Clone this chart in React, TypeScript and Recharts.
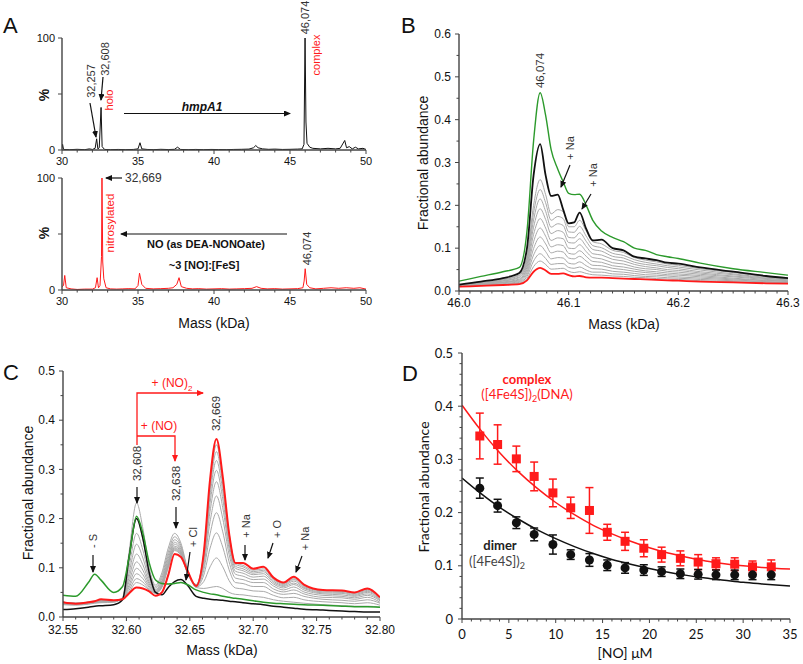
import React from "react";
import { LineChart, Line, XAxis, YAxis, ComposedChart, Scatter, ErrorBar } from "recharts";

// ---------- panel A: deconvoluted spectra ----------
const aTopMass = [30.0, 30.04, 30.1, 30.5, 31, 31.5, 31.8, 32.0, 32.18, 32.28, 32.36, 32.45, 32.57, 32.64, 32.8, 33.2, 33.7, 34.2, 34.7, 35.0, 35.13, 35.25, 35.6, 36, 36.5, 37.0, 37.4, 37.6, 37.8, 38.3, 38.8, 39.3, 39.8, 40.3, 40.8, 41.3, 41.8, 42.3, 42.6, 42.75, 42.9, 43.2, 43.6, 44, 44.5, 45, 45.5, 45.8, 45.92, 45.99, 46.05, 46.12, 46.3, 46.5, 47, 47.5, 48, 48.3, 48.6, 48.72, 48.9, 49.1, 49.3, 49.5, 49.8, 50];
const aTopPct = [1.5, 5, 0.5, 0.3, 0.6, 0.3, 1, 0.5, 1.5, 10, 1, 2, 38, 3, 0.5, 0.3, 0.5, 0.3, 0.5, 1, 6.5, 1, 0.5, 0.3, 0.6, 0.4, 0.6, 2.5, 0.5, 0.3, 0.5, 0.3, 0.5, 0.4, 0.3, 0.5, 0.6, 0.8, 2, 4, 2, 1, 0.6, 0.8, 0.5, 0.6, 0.8, 1, 5, 100, 25, 6, 2.5, 1.5, 1, 1.5, 1, 1.5, 8.5, 2, 3, 1, 2.5, 1, 1.5, 0.5];

const aBotMass = [30, 30.1, 30.18, 30.28, 30.6, 31, 31.5, 32, 32.2, 32.31, 32.4, 32.5, 32.6, 32.63, 32.68, 32.75, 32.9, 33.2, 33.6, 34, 34.4, 34.8, 35.0, 35.1, 35.25, 35.5, 36, 36.5, 37, 37.3, 37.55, 37.7, 37.85, 38.2, 38.6, 39, 39.5, 40, 40.5, 41, 41.5, 42, 42.5, 42.8, 43.1, 43.5, 44, 44.5, 45, 45.5, 45.85, 45.93, 46.0, 46.1, 46.3, 46.7, 47.2, 47.7, 48.2, 48.7, 49.2, 49.6, 50];
const aBotPct = [3, 4, 13, 2, 1, 0.5, 0.8, 0.8, 2, 11, 2, 4, 30, 100, 25, 10, 2, 1, 0.8, 1, 1.2, 1, 4, 15, 5, 1.5, 1, 1.2, 1.5, 2, 5, 11, 3, 1.5, 1, 1.2, 0.8, 1, 1.2, 0.8, 1, 1.2, 1.5, 3, 1.5, 1, 1.2, 0.8, 1, 1.2, 2, 8, 19, 5, 2, 1, 1.5, 2, 1.5, 2, 1.5, 2, 0.8];

// ---------- panel B: complex peak region ----------
const bMass = [46.0, 46.02, 46.04, 46.055, 46.062, 46.068, 46.074, 46.079, 46.084, 46.09, 46.095, 46.1, 46.105, 46.11, 46.116, 46.122, 46.13, 46.14, 46.15, 46.16, 46.17, 46.18, 46.19, 46.2, 46.22, 46.25, 46.28, 46.3];
const bGreen = [0.023, 0.034, 0.045, 0.055, 0.14, 0.35, 0.463, 0.41, 0.33, 0.285, 0.255, 0.228, 0.225, 0.226, 0.2, 0.165, 0.14, 0.125, 0.115, 0.1, 0.095, 0.085, 0.08, 0.076, 0.065, 0.052, 0.043, 0.037];
const bBlack = [0.015, 0.022, 0.03, 0.042, 0.1, 0.27, 0.343, 0.27, 0.222, 0.225, 0.19, 0.158, 0.16, 0.183, 0.145, 0.118, 0.12, 0.1, 0.095, 0.08, 0.076, 0.072, 0.066, 0.064, 0.055, 0.045, 0.035, 0.03];
const bRed = [0.01, 0.012, 0.014, 0.016, 0.025, 0.045, 0.054, 0.048, 0.04, 0.04, 0.041, 0.037, 0.034, 0.035, 0.032, 0.031, 0.031, 0.03, 0.029, 0.028, 0.027, 0.026, 0.025, 0.024, 0.022, 0.02, 0.018, 0.017];
const bGrays = [
  [0.014, 0.02, 0.027, 0.038, 0.08, 0.2, 0.26, 0.225, 0.18, 0.19, 0.185, 0.15, 0.15, 0.165, 0.14, 0.115, 0.11, 0.095, 0.09, 0.078, 0.072, 0.068, 0.063, 0.06, 0.052, 0.043, 0.034, 0.03],
  [0.014, 0.019, 0.026, 0.036, 0.074, 0.183, 0.237, 0.206, 0.165, 0.174, 0.169, 0.138, 0.137, 0.151, 0.128, 0.106, 0.101, 0.088, 0.083, 0.073, 0.067, 0.063, 0.059, 0.056, 0.049, 0.04, 0.032, 0.029],
  [0.013, 0.018, 0.024, 0.033, 0.068, 0.166, 0.215, 0.186, 0.149, 0.157, 0.153, 0.125, 0.124, 0.136, 0.116, 0.097, 0.093, 0.081, 0.077, 0.067, 0.062, 0.059, 0.055, 0.052, 0.045, 0.038, 0.03, 0.027],
  [0.013, 0.017, 0.023, 0.031, 0.062, 0.149, 0.192, 0.167, 0.134, 0.141, 0.137, 0.113, 0.112, 0.122, 0.104, 0.087, 0.084, 0.074, 0.07, 0.062, 0.057, 0.054, 0.05, 0.048, 0.042, 0.035, 0.029, 0.026],
  [0.012, 0.016, 0.021, 0.028, 0.056, 0.132, 0.169, 0.147, 0.118, 0.124, 0.122, 0.1, 0.099, 0.108, 0.092, 0.078, 0.075, 0.066, 0.063, 0.056, 0.052, 0.05, 0.046, 0.044, 0.039, 0.033, 0.027, 0.024],
  [0.012, 0.016, 0.02, 0.026, 0.05, 0.115, 0.147, 0.128, 0.103, 0.108, 0.106, 0.088, 0.086, 0.094, 0.081, 0.069, 0.067, 0.059, 0.056, 0.051, 0.047, 0.045, 0.042, 0.04, 0.036, 0.03, 0.025, 0.023],
  [0.011, 0.015, 0.019, 0.024, 0.044, 0.099, 0.126, 0.11, 0.089, 0.093, 0.091, 0.077, 0.075, 0.081, 0.07, 0.06, 0.059, 0.053, 0.05, 0.046, 0.043, 0.041, 0.038, 0.037, 0.033, 0.028, 0.024, 0.022],
  [0.011, 0.014, 0.017, 0.022, 0.039, 0.084, 0.106, 0.092, 0.075, 0.078, 0.077, 0.065, 0.063, 0.068, 0.059, 0.052, 0.051, 0.046, 0.044, 0.041, 0.038, 0.037, 0.035, 0.033, 0.03, 0.026, 0.022, 0.02],
  [0.011, 0.013, 0.016, 0.02, 0.034, 0.07, 0.087, 0.076, 0.062, 0.064, 0.064, 0.055, 0.053, 0.056, 0.049, 0.044, 0.044, 0.04, 0.039, 0.036, 0.034, 0.033, 0.031, 0.03, 0.027, 0.024, 0.021, 0.019],
  [0.01, 0.013, 0.015, 0.018, 0.029, 0.057, 0.07, 0.062, 0.051, 0.052, 0.053, 0.046, 0.043, 0.045, 0.041, 0.038, 0.037, 0.035, 0.034, 0.032, 0.031, 0.029, 0.028, 0.027, 0.024, 0.022, 0.019, 0.018],
];

// ---------- panel C: [4Fe-4S] protein region ----------
const cMass = [32.55, 32.56, 32.57, 32.575, 32.58, 32.59, 32.597, 32.602, 32.608, 32.613, 32.618, 32.623, 32.628, 32.633, 32.638, 32.643, 32.648, 32.655, 32.661, 32.666, 32.671, 32.676, 32.681, 32.686, 32.692, 32.7, 32.708, 32.716, 32.724, 32.732, 32.74, 32.755, 32.77, 32.78, 32.79, 32.8];
const cRed = [0.03, 0.027, 0.03, 0.032, 0.036, 0.034, 0.036, 0.048, 0.06, 0.058, 0.052, 0.043, 0.05, 0.085, 0.128, 0.122, 0.095, 0.063, 0.13, 0.28, 0.362, 0.285, 0.17, 0.11, 0.11, 0.098, 0.102, 0.08, 0.07, 0.082, 0.066, 0.055, 0.054, 0.05, 0.058, 0.04];
const cGreen = [0.044, 0.042, 0.07, 0.087, 0.075, 0.05, 0.062, 0.12, 0.205, 0.17, 0.11, 0.075, 0.068, 0.067, 0.068, 0.07, 0.066, 0.055, 0.05, 0.047, 0.045, 0.042, 0.04, 0.038, 0.036, 0.033, 0.03, 0.028, 0.027, 0.026, 0.025, 0.024, 0.022, 0.021, 0.021, 0.02];
const cBlack = [0.015, 0.017, 0.02, 0.022, 0.023, 0.025, 0.035, 0.12, 0.2, 0.16, 0.09, 0.05, 0.045, 0.06, 0.072, 0.076, 0.065, 0.042, 0.038, 0.036, 0.035, 0.034, 0.032, 0.031, 0.029, 0.027, 0.025, 0.022, 0.02, 0.018, 0.016, 0.014, 0.012, 0.011, 0.01, 0.01];
const cGrays = [
  [0.025, 0.024, 0.026, 0.028, 0.029, 0.03, 0.04, 0.13, 0.232, 0.18, 0.1, 0.065, 0.09, 0.14, 0.17, 0.15, 0.1, 0.06, 0.058, 0.06, 0.062, 0.058, 0.05, 0.046, 0.045, 0.042, 0.04, 0.035, 0.032, 0.03, 0.028, 0.025, 0.023, 0.022, 0.022, 0.02],
  [0.026, 0.025, 0.027, 0.029, 0.03, 0.031, 0.039, 0.114, 0.2, 0.157, 0.091, 0.062, 0.084, 0.132, 0.163, 0.145, 0.098, 0.061, 0.072, 0.102, 0.12, 0.102, 0.074, 0.059, 0.057, 0.053, 0.052, 0.044, 0.039, 0.04, 0.035, 0.031, 0.029, 0.027, 0.029, 0.024],
  [0.027, 0.026, 0.028, 0.03, 0.031, 0.031, 0.039, 0.1, 0.17, 0.136, 0.083, 0.059, 0.079, 0.125, 0.157, 0.141, 0.096, 0.062, 0.085, 0.14, 0.171, 0.142, 0.096, 0.07, 0.068, 0.062, 0.062, 0.051, 0.046, 0.048, 0.042, 0.036, 0.034, 0.032, 0.035, 0.028],
  [0.028, 0.026, 0.028, 0.03, 0.032, 0.032, 0.038, 0.088, 0.148, 0.12, 0.077, 0.056, 0.074, 0.119, 0.152, 0.137, 0.095, 0.063, 0.095, 0.169, 0.212, 0.173, 0.112, 0.079, 0.076, 0.07, 0.07, 0.057, 0.051, 0.055, 0.047, 0.04, 0.039, 0.036, 0.04, 0.03],
  [0.028, 0.027, 0.029, 0.031, 0.032, 0.032, 0.037, 0.079, 0.128, 0.106, 0.071, 0.054, 0.071, 0.114, 0.148, 0.134, 0.094, 0.064, 0.104, 0.194, 0.246, 0.2, 0.127, 0.087, 0.083, 0.076, 0.077, 0.063, 0.055, 0.061, 0.051, 0.044, 0.042, 0.039, 0.044, 0.033],
  [0.029, 0.027, 0.029, 0.031, 0.033, 0.032, 0.037, 0.071, 0.112, 0.095, 0.067, 0.052, 0.068, 0.11, 0.144, 0.132, 0.093, 0.064, 0.111, 0.215, 0.275, 0.222, 0.139, 0.093, 0.089, 0.081, 0.083, 0.067, 0.059, 0.066, 0.055, 0.047, 0.045, 0.042, 0.047, 0.035],
  [0.029, 0.027, 0.029, 0.031, 0.033, 0.033, 0.037, 0.064, 0.099, 0.086, 0.063, 0.051, 0.065, 0.107, 0.141, 0.13, 0.092, 0.065, 0.117, 0.232, 0.298, 0.24, 0.148, 0.099, 0.094, 0.086, 0.088, 0.07, 0.062, 0.069, 0.058, 0.049, 0.048, 0.044, 0.05, 0.036],
  [0.03, 0.028, 0.03, 0.032, 0.034, 0.033, 0.036, 0.059, 0.088, 0.078, 0.06, 0.05, 0.063, 0.104, 0.139, 0.128, 0.091, 0.065, 0.122, 0.247, 0.318, 0.256, 0.157, 0.103, 0.098, 0.089, 0.092, 0.073, 0.064, 0.073, 0.06, 0.051, 0.05, 0.046, 0.052, 0.038],
  [0.03, 0.028, 0.03, 0.032, 0.034, 0.033, 0.036, 0.054, 0.078, 0.071, 0.057, 0.049, 0.062, 0.102, 0.137, 0.126, 0.091, 0.066, 0.126, 0.26, 0.336, 0.269, 0.164, 0.107, 0.102, 0.092, 0.095, 0.076, 0.066, 0.076, 0.062, 0.053, 0.052, 0.048, 0.054, 0.039],
  [0.03, 0.028, 0.03, 0.032, 0.034, 0.033, 0.036, 0.05, 0.07, 0.065, 0.055, 0.048, 0.06, 0.1, 0.135, 0.125, 0.09, 0.066, 0.13, 0.27, 0.35, 0.28, 0.17, 0.11, 0.105, 0.095, 0.098, 0.078, 0.068, 0.078, 0.064, 0.054, 0.053, 0.049, 0.056, 0.04],
];

// ---------- panel D: titration ----------
const dNO = [1.9, 3.8, 5.8, 7.7, 9.7, 11.6, 13.6, 15.5, 17.4, 19.4, 21.3, 23.3, 25.2, 27.1, 29.1, 31.0, 33.0];
const dComplex = [0.344, 0.328, 0.301, 0.268, 0.237, 0.209, 0.204, 0.163, 0.146, 0.133, 0.121, 0.114, 0.107, 0.104, 0.103, 0.098, 0.098];
const dComplexErr = [0.043, 0.037, 0.024, 0.027, 0.026, 0.02, 0.043, 0.015, 0.017, 0.016, 0.014, 0.014, 0.014, 0.011, 0.012, 0.011, 0.013];
const dDimer = [0.246, 0.213, 0.181, 0.159, 0.14, 0.121, 0.111, 0.101, 0.096, 0.092, 0.089, 0.085, 0.084, 0.083, 0.083, 0.083, 0.083];
const dDimerErr = [0.019, 0.012, 0.011, 0.012, 0.018, 0.009, 0.012, 0.01, 0.01, 0.01, 0.009, 0.009, 0.009, 0.009, 0.009, 0.009, 0.009];
const fitNO = [0, 2, 4, 6, 8, 10, 12, 14, 16, 18, 20, 22, 24, 26, 28, 30, 32, 35];
const fitComplex = [0.402, 0.355, 0.313, 0.277, 0.246, 0.219, 0.196, 0.176, 0.16, 0.146, 0.134, 0.124, 0.116, 0.109, 0.104, 0.1, 0.097, 0.094];
const fitDimer = [0.265, 0.236, 0.21, 0.188, 0.168, 0.151, 0.136, 0.123, 0.112, 0.103, 0.095, 0.088, 0.082, 0.077, 0.073, 0.069, 0.066, 0.062];

// tick labels
const aMajorX = [30, 35, 40, 45, 50];
const aMajorY = [0, 50, 100];
const bMajorX = [46.0, 46.1, 46.2, 46.3];
const bMajorY = [0, 0.1, 0.2, 0.3, 0.4, 0.5, 0.6];
const cMajorX = [32.55, 32.6, 32.65, 32.7, 32.75, 32.8];
const cMajorY = [0, 0.1, 0.2, 0.3, 0.4, 0.5];
const dMajorX = [0, 5, 10, 15, 20, 25, 30, 35];
const dMajorY = [0, 0.1, 0.2, 0.3, 0.4, 0.5];

const AXIS = "#444";
const GREEN = "#2c9a2c";
const RED = "#ff1a1a";
const GRAY = "#a9a9a9";
const ARIAL = "'Liberation Sans', Arial, sans-serif";
const SANS = "Lato, 'Open Sans', sans-serif";

const steps = (a: number, b: number, s: number) =>
  Array.from({ length: Math.round((b - a) / s) + 1 }, (_, i) => +(a + i * s).toFixed(4));
const near = (a: number, b: number) => Math.abs(a - b) < 1e-6;

type TickCfg = { majors: number[]; fmt: (v: number) => string; len: number; minor: number; gap: number; size: number; font: string };

function bottomTick(c: TickCfg) {
  return (p: any) => {
    const v = p.payload.value;
    const major = c.majors.some((m) => near(m, v));
    return (
      <g>
        <line x1={p.x} x2={p.x} y1={p.y} y2={p.y + (major ? c.len : c.minor)} stroke={AXIS} strokeWidth={1} />
        {major && (
          <text x={p.x} y={p.y + c.gap} textAnchor="middle" fontSize={c.size} fontFamily={c.font} fill="#111">
            {c.fmt(v)}
          </text>
        )}
      </g>
    );
  };
}

function leftTick(c: TickCfg) {
  return (p: any) => {
    const v = p.payload.value;
    const major = c.majors.some((m) => near(m, v));
    return (
      <g>
        <line x1={p.x} x2={p.x - (major ? c.len : c.minor)} y1={p.y} y2={p.y} stroke={AXIS} strokeWidth={1} />
        {major && (
          <text x={p.x - c.gap} y={p.y} dy="0.35em" textAnchor="end" fontSize={c.size} fontFamily={c.font} fill="#111">
            {c.fmt(v)}
          </text>
        )}
      </g>
    );
  };
}

const axisLine = { stroke: AXIS, strokeWidth: 1.4 };
const axisCommon = { tickSize: 0, tickMargin: 0, tickLine: false, interval: 0 as const, axisLine, allowDataOverflow: true };

const aTopRows = aTopMass.map((x, i) => ({ x, y: aTopPct[i] }));
const aBotRows = aBotMass.map((x, i) => ({ x, y: aBotPct[i] }));
const bRows = bMass.map((x, i) => {
  const r: Record<string, number> = { x, green: bGreen[i], black: bBlack[i], red: bRed[i] };
  bGrays.forEach((g, k) => (r["g" + k] = g[i]));
  return r;
});
const cRows = cMass.map((x, i) => {
  const r: Record<string, number> = { x, green: cGreen[i], black: cBlack[i], red: cRed[i] };
  cGrays.forEach((g, k) => (r["g" + k] = g[i]));
  return r;
});
const dComplexRows = dNO.map((x, i) => ({ x, y: dComplex[i], err: dComplexErr[i] }));
const dDimerRows = dNO.map((x, i) => ({ x, y: dDimer[i], err: dDimerErr[i] }));
const fitComplexRows = fitNO.map((x, i) => ({ x, y: fitComplex[i] }));
const fitDimerRows = fitNO.map((x, i) => ({ x, y: fitDimer[i] }));

function Spectrum({ rows, top, mt, color }: { rows: { x: number; y: number }[]; top: number; mt: number; color: string }) {
  return (
    <div style={{ position: "absolute", left: 0, top }}>
      <LineChart width={380} height={mt + 112 + 28} data={rows} margin={{ top: mt, right: 14, bottom: 0, left: 0 }}>
        <XAxis
          type="number"
          dataKey="x"
          domain={[30, 50]}
          ticks={steps(30, 50, 1)}
          height={28}
          tick={bottomTick({ majors: aMajorX, fmt: String, len: 4, minor: 2.5, gap: 15, size: 11, font: ARIAL })}
          {...axisCommon}
        />
        <YAxis
          type="number"
          domain={[0, 100]}
          ticks={aMajorY}
          width={62}
          tick={leftTick({ majors: aMajorY, fmt: (v) => (v === 50 ? "" : String(v)), len: 4, minor: 2, gap: 7, size: 11, font: ARIAL })}
          {...axisCommon}
        />
        <Line type="linear" dataKey="y" stroke={color} strokeWidth={1} dot={false} isAnimationActive={false} />
      </LineChart>
    </div>
  );
}

const Arrow = ({ d, color = "#111" }: { d: string; color?: string }) => (
  <path d={d} fill="none" stroke={color} strokeWidth={1.2} markerEnd={color === RED ? "url(#ahr)" : "url(#ah)"} />
);

const VText = ({ x, y, children, color = "#333", size = 11, font = ARIAL, weight = 400 }: any) => (
  <text
    transform={`translate(${x},${y}) rotate(-90)`}
    textAnchor="middle"
    dominantBaseline="central"
    fontSize={size}
    fontFamily={font}
    fontWeight={weight}
    fill={color}
  >
    {children}
  </text>
);

function Overlay() {
  return (
    <svg width={803} height={664} style={{ position: "absolute", left: 0, top: 0, pointerEvents: "none" }}>
      <defs>
        <marker id="ah" markerWidth={7} markerHeight={6} refX={6} refY={3} orient="auto" markerUnits="userSpaceOnUse">
          <path d="M0,0 L7,3 L0,6 z" fill="#111" />
        </marker>
        <marker id="ahr" markerWidth={7} markerHeight={6} refX={6} refY={3} orient="auto" markerUnits="userSpaceOnUse">
          <path d="M0,0 L7,3 L0,6 z" fill={RED} />
        </marker>
      </defs>
      {/* panel letters */}
      <g fontFamily={ARIAL} fontSize={22} fill="#111">
        <text x={3} y={33}>A</text>
        <text x={401} y={33}>B</text>
        <text x={3} y={380}>C</text>
        <text x={402} y={381}>D</text>
      </g>

      {/* A */}
      <VText x={44} y={95} size={14} weight={700} color="#111">%</VText>
      <VText x={44} y={233} size={14} weight={700} color="#111">%</VText>
      <VText x={305} y={17.5}>46,074</VText>
      <VText x={316} y={55} color={RED}>complex</VText>
      <VText x={105} y={59}>32,608</VText>
      <VText x={91} y={81}>32,257</VText>
      <VText x={109} y={100} color={RED}>holo</VText>
      <Arrow d="M90,103 L96,137" />
      <Arrow d="M103,77 L101,100" />
      <Arrow d="M124,113.5 L290,113.5" />
      <text x={202} y={111} textAnchor="middle" fontFamily={ARIAL} fontSize={12} fontWeight={700} fontStyle="italic" fill="#111">hmpA1</text>
      <Arrow d="M122,178 L106,178" />
      <text x={125} y={182} fontFamily={ARIAL} fontSize={12} fill="#333">32,669</text>
      <VText x={110} y={223} color={RED} size={11.5}>nitrosylated</VText>
      <Arrow d="M287,234 L121,234" />
      <text x={206} y={248} textAnchor="middle" fontFamily={ARIAL} fontSize={11} fontWeight={700} fill="#111">NO (as DEA-NONOate)</text>
      <text x={204} y={269} textAnchor="middle" fontFamily={ARIAL} fontSize={11} fontWeight={700} fill="#111">~3 [NO]:[FeS]</text>
      <VText x={307} y={248.5}>46,074</VText>
      <text x={214} y={328} textAnchor="middle" fontFamily={ARIAL} fontSize={14} fill="#111">Mass (kDa)</text>

      {/* B */}
      <VText x={423} y={163} size={14} color="#111">Fractional abundance</VText>
      <VText x={540} y={70.5} size={11.5}>46,074</VText>
      <VText x={570} y={148}>+ Na</VText>
      <VText x={593} y={175}>+ Na</VText>
      <Arrow d="M570,165 L561,187" />
      <Arrow d="M591,194 L582,209" />
      <text x={624} y={329} textAnchor="middle" fontFamily={ARIAL} fontSize={14} fill="#111">Mass (kDa)</text>

      {/* C */}
      <VText x={28} y={493} size={14} color="#111">Fractional abundance</VText>
      <text x={222} y={655} textAnchor="middle" fontFamily={ARIAL} fontSize={14} fill="#111">Mass (kDa)</text>
      <path d="M137,445 L137,393 L203,393" fill="none" stroke={RED} strokeWidth={1.3} markerEnd="url(#ahr)" />
      <path d="M137,436 L175,436 L175,461" fill="none" stroke={RED} strokeWidth={1.3} markerEnd="url(#ahr)" />
      <text x={172} y={387} textAnchor="middle" fontFamily={ARIAL} fontSize={12} fill={RED}>
        + (NO)<tspan dy={4} fontSize={8}>2</tspan>
      </text>
      <text x={159} y={430} textAnchor="middle" fontFamily={ARIAL} fontSize={12} fill={RED}>+ (NO)</text>
      <VText x={216} y={413.5} size={11.5}>32,669</VText>
      <VText x={137} y={463.5} size={11.5}>32,608</VText>
      <VText x={176} y={483.5} size={11.5}>32,638</VText>
      <VText x={193} y={537}>+ Cl</VText>
      <VText x={93} y={541}>- S</VText>
      <VText x={246} y={526}>+ Na</VText>
      <VText x={277} y={529}>+ O</VText>
      <VText x={305} y={538.5}>+ Na</VText>
      <Arrow d="M137,487 L137,503" />
      <Arrow d="M176,507 L176,528" />
      <Arrow d="M190,552 L186,580" />
      <Arrow d="M93,555 L93,572" />
      <Arrow d="M245,545 L245,560" />
      <Arrow d="M273,543 L268,558" />
      <Arrow d="M302,556 L296,572" />

      {/* D */}
      <VText x={423} y={487} size={14} font={SANS} color="#111">Fractional abundance</VText>
      <text x={625} y={658} textAnchor="middle" fontFamily={SANS} fontSize={14} fill="#111">[NO] μM</text>
      <text x={527} y={384} textAnchor="middle" fontFamily={SANS} fontSize={13} fontWeight={700} fill={RED}>complex</text>
      <text x={527} y={399} textAnchor="middle" fontFamily={SANS} fontSize={13} fill={RED}>
        ([4Fe4S])<tspan dy={3} fontSize={9}>2</tspan>
        <tspan dy={-3}>(DNA)</tspan>
      </text>
      <text x={500} y={550} textAnchor="middle" fontFamily={SANS} fontSize={13} fontWeight={700} fill="#222">dimer</text>
      <text x={497} y={566} textAnchor="middle" fontFamily={SANS} fontSize={13} fill="#444">
        ([4Fe4S])<tspan dy={3} fontSize={9}>2</tspan>
      </text>
    </svg>
  );
}

export default function App() {
  const bXTick = bottomTick({ majors: bMajorX, fmt: (v) => v.toFixed(1), len: 4, minor: 2.5, gap: 16, size: 12, font: ARIAL });
  const bYTick = leftTick({ majors: bMajorY, fmt: (v) => v.toFixed(1), len: 4, minor: 2.5, gap: 8, size: 12, font: ARIAL });
  const cXTick = bottomTick({ majors: cMajorX, fmt: (v) => v.toFixed(2), len: 4, minor: 2.5, gap: 17, size: 12, font: ARIAL });
  const cYTick = leftTick({ majors: cMajorY, fmt: (v) => v.toFixed(1), len: 4, minor: 2.5, gap: 8, size: 12, font: ARIAL });
  const dXTick = bottomTick({ majors: dMajorX, fmt: String, len: 4, minor: 2.5, gap: 20, size: 13, font: SANS });
  const dYTick = leftTick({ majors: dMajorY, fmt: (v) => (v === 0 ? "0" : v.toFixed(1)), len: 4, minor: 2.5, gap: 9, size: 13, font: SANS });

  return (
    <div style={{ position: "absolute", left: 0, top: 0, width: 803, height: 664, background: "#fff" }}>
      <Spectrum rows={aTopRows} top={0} mt={38} color="#111" />
      <Spectrum rows={aBotRows} top={160} mt={18} color={RED} />

      <div style={{ position: "absolute", left: 400, top: 0 }}>
        <LineChart width={400} height={321} data={bRows} margin={{ top: 34, right: 12, bottom: 0, left: 0 }}>
          <XAxis type="number" dataKey="x" domain={[46, 46.3]} ticks={steps(46, 46.3, 0.01)} height={30} tick={bXTick} {...axisCommon} />
          <YAxis type="number" domain={[0, 0.6]} ticks={steps(0, 0.6, 0.05)} width={59} tick={bYTick} {...axisCommon} />
          {bGrays.map((_, k) => (
            <Line key={k} type="monotone" dataKey={"g" + k} stroke={GRAY} strokeWidth={1} dot={false} isAnimationActive={false} />
          ))}
          <Line type="monotone" dataKey="red" stroke={RED} strokeWidth={1.8} dot={false} isAnimationActive={false} />
          <Line type="monotone" dataKey="black" stroke="#111" strokeWidth={1.8} dot={false} isAnimationActive={false} />
          <Line type="monotone" dataKey="green" stroke={GREEN} strokeWidth={1.4} dot={false} isAnimationActive={false} />
        </LineChart>
      </div>

      <div style={{ position: "absolute", left: 0, top: 340 }}>
        <LineChart width={395} height={307} data={cRows} margin={{ top: 31, right: 15, bottom: 0, left: 0 }}>
          <XAxis type="number" dataKey="x" domain={[32.55, 32.8]} ticks={steps(32.55, 32.8, 0.01)} height={30} tick={cXTick} {...axisCommon} />
          <YAxis type="number" domain={[0, 0.5]} ticks={steps(0, 0.5, 0.05)} width={63} tick={cYTick} {...axisCommon} />
          {cGrays.map((_, k) => (
            <Line key={k} type="monotone" dataKey={"g" + k} stroke={GRAY} strokeWidth={1} dot={false} isAnimationActive={false} />
          ))}
          <Line type="monotone" dataKey="black" stroke="#111" strokeWidth={1.5} dot={false} isAnimationActive={false} />
          <Line type="monotone" dataKey="green" stroke={GREEN} strokeWidth={1.5} dot={false} isAnimationActive={false} />
          <Line type="monotone" dataKey="red" stroke={RED} strokeWidth={2} dot={false} isAnimationActive={false} />
        </LineChart>
      </div>

      <div style={{ position: "absolute", left: 400, top: 340 }}>
        <ComposedChart width={400} height={309} margin={{ top: 13, right: 10, bottom: 0, left: 0 }}>
          <XAxis type="number" dataKey="x" domain={[0, 35]} ticks={steps(0, 35, 1)} height={30} tick={dXTick} {...axisCommon} />
          <YAxis type="number" dataKey="y" domain={[0, 0.5]} ticks={steps(0, 0.5, 0.02)} width={62} tick={dYTick} {...axisCommon} />
          <Line data={fitComplexRows} type="monotone" dataKey="y" stroke={RED} strokeWidth={1.5} dot={false} isAnimationActive={false} />
          <Line data={fitDimerRows} type="monotone" dataKey="y" stroke="#111" strokeWidth={1.5} dot={false} isAnimationActive={false} />
          <Scatter
            data={dComplexRows}
            dataKey="y"
            isAnimationActive={false}
            shape={(p: any) => <rect x={p.cx - 4.5} y={p.cy - 4.5} width={9} height={9} fill={RED} />}
          >
            <ErrorBar dataKey="err" direction="y" width={4} stroke={RED} strokeWidth={1.5} />
          </Scatter>
          <Scatter
            data={dDimerRows}
            dataKey="y"
            isAnimationActive={false}
            shape={(p: any) => <circle cx={p.cx} cy={p.cy} r={4.5} fill="#111" />}
          >
            <ErrorBar dataKey="err" direction="y" width={4} stroke="#111" strokeWidth={1.5} />
          </Scatter>
        </ComposedChart>
      </div>

      <Overlay />
    </div>
  );
}
